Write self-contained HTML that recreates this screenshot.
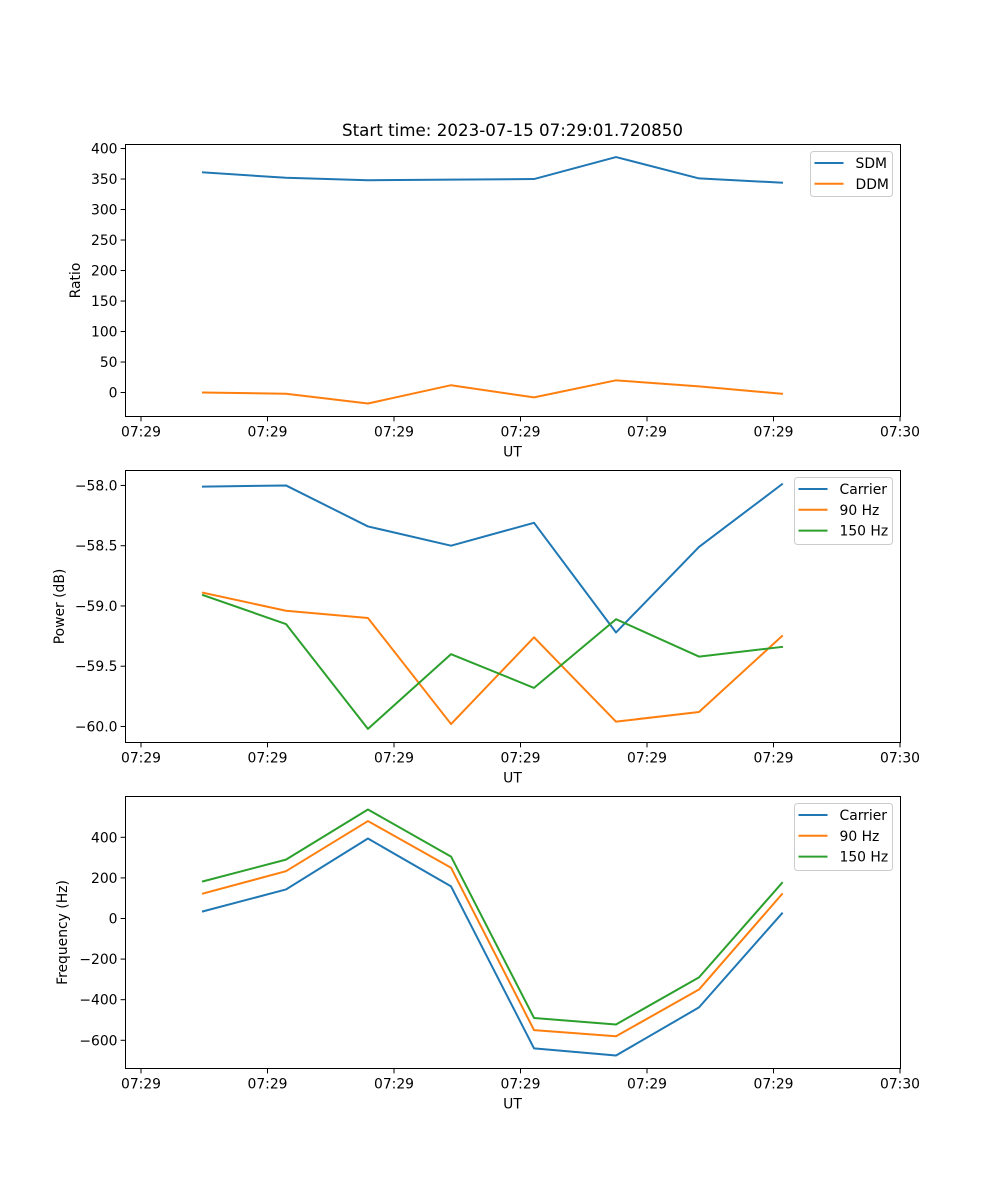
<!DOCTYPE html>
<html><head><meta charset="utf-8">
<style>
html,body{margin:0;padding:0;background:#fff;}
svg{display:block;font-family:"DejaVu Sans","Liberation Sans",sans-serif;}
</style></head>
<body>
<svg id="fig" width="1000" height="1200" viewBox="0 0 1000 1200" xmlns="http://www.w3.org/2000/svg">
<rect width="1000" height="1200" fill="#fff"/>
<text x="512.5" y="136" font-size="16.7" text-anchor="middle">Start time: 2023-07-15 07:29:01.720850</text>
</svg>
<script>
// shared x data: seconds after 07:29:00
const times = [4.9, 11.46, 17.94, 24.51, 31.07, 37.55, 44.11, 50.67];
const xTicks = [0, 10, 20, 30, 40, 50, 60];
const xTickLabels = ["07:29","07:29","07:29","07:29","07:29","07:29","07:30"];

// panel 1
const sdm = [361, 352, 348, 349, 350, 386, 351, 344];
const ddm = [0, -2, -18, 12, -8, 20, 10, -2];
const ratioTicks = [0, 50, 100, 150, 200, 250, 300, 350, 400];
// panel 2
const pCarrier = [-58.01, -58.0, -58.34, -58.50, -58.31, -59.22, -58.51, -57.99];
const p90 = [-58.89, -59.04, -59.10, -59.98, -59.26, -59.96, -59.88, -59.25];
const p150 = [-58.91, -59.15, -60.02, -59.40, -59.68, -59.11, -59.42, -59.34];
const powerTicks = [-60.0, -59.5, -59.0, -58.5, -58.0];
// panel 3
const fCarrier = [35, 143, 394, 158, -640, -675, -438, 25];
const f90 = [123, 233, 480, 250, -550, -580, -350, 120];
const f150 = [183, 290, 537, 305, -490, -522, -290, 175];
const freqTicks = [-600, -400, -200, 0, 200, 400];

const NS = "http://www.w3.org/2000/svg";
const fig = document.getElementById('fig');
function mk(tag, attrs, parent){const e=document.createElementNS(NS,tag);for(const k in attrs)e.setAttribute(k,attrs[k]);(parent||fig).appendChild(e);return e;}
const X0=125.5, X1=900.5;
const xScale = t => 141 + t*12.65;
const fmtMinus = s => String(s).replace('-', '\u2212');

function panel(cfg){
  const g = mk('g',{});
  
  
  const yS = v => cfg.top + (cfg.ymax - v)/(cfg.ymax - cfg.ymin)*(cfg.bot - cfg.top);
  cfg.series.forEach(s=>{
    const p = mk('polyline',{points: times.map((t,i)=>xScale(t).toFixed(2)+','+yS(s.data[i]).toFixed(2)).join(' '), fill:'none', stroke:s.color, 'stroke-width':2, 'stroke-linejoin':'round','stroke-linecap':'square'}, g);
    
    
  });
  const fr = mk('rect',{x:X0,y:cfg.top,width:X1-X0,height:cfg.bot-cfg.top,fill:'none',stroke:'#000','stroke-width':1},g);
  
  
  xTicks.forEach((t,i)=>{
    const x = xScale(t);
    mk('line',{x1:x,x2:x,y1:cfg.bot,y2:cfg.bot+4.9,stroke:'#000','stroke-width':1},g);
    const tx = mk('text',{x:x,y:cfg.bot+20,'font-size':13.9,'text-anchor':'middle'},g);
    tx.textContent = xTickLabels[i];
    
    
  });
  const xl = mk('text',{x:512.5,y:cfg.bot+40,'font-size':13.9,'text-anchor':'middle'},g);
  xl.textContent='UT';
  
  
  cfg.ticks.forEach(v=>{
    const y = yS(v);
    mk('line',{x1:X0,x2:X0-4.9,y1:y,y2:y,stroke:'#000','stroke-width':1},g);
    const tx = mk('text',{x:X0-8,y:y+5,'font-size':13.9,'text-anchor':'end'},g);
    tx.textContent = fmtMinus(cfg.fmt(v));
    
    
  });
  const yl = mk('text',{x:0,y:0,'font-size':13.9,'text-anchor':'middle',transform:`translate(${cfg.ylx},${(cfg.top+cfg.bot)/2}) rotate(-90)`},g);
  yl.textContent = cfg.ylabel;
  
  
  const L = cfg.legend;
  const lg = mk('g',{},g);
  
  
  mk('rect',{x:L.x,y:L.y,width:L.w,height:L.h,rx:3,fill:'#fff','fill-opacity':0.8,stroke:'#ccc','stroke-width':1},lg);
  cfg.series.forEach((s,i)=>{
    const y = L.y + 11.5 + i*20.8;
    mk('line',{x1:L.x+4,x2:L.x+33,y1:y,y2:y,stroke:s.color,'stroke-width':2},lg);
    const tx = mk('text',{x:L.x+45,y:y+5,'font-size':13.9},lg);
    tx.textContent = s.label;
    
    
  });
}

panel({name:'ratio-panel', top:144.5, bot:416.5, ymin:-39.3, ymax:406.6, ticks:ratioTicks, fmt:v=>String(v), ylabel:'Ratio', ylx:80,
  series:[{key:'sdm',label:'SDM',color:'#1f77b4',data:sdm},{key:'ddm',label:'DDM',color:'#ff7f0e',data:ddm}],
  legend:{x:810.5,y:151.5,w:82,h:45}});
panel({name:'power-panel', top:470.5, bot:742.5, ymin:-60.133, ymax:-57.876, ticks:powerTicks, fmt:v=>v.toFixed(1), ylabel:'Power (dB)', ylx:64,
  series:[{key:'power-carrier',label:'Carrier',color:'#1f77b4',data:pCarrier},{key:'power-90hz',label:'90 Hz',color:'#ff7f0e',data:p90},{key:'power-150hz',label:'150 Hz',color:'#2ca02c',data:p150}],
  legend:{x:794.5,y:477.5,w:98,h:67}});
panel({name:'frequency-panel', top:796.5, bot:1068.5, ymin:-739, ymax:601, ticks:freqTicks, fmt:v=>String(v), ylabel:'Frequency (Hz)', ylx:67,
  series:[{key:'freq-carrier',label:'Carrier',color:'#1f77b4',data:fCarrier},{key:'freq-90hz',label:'90 Hz',color:'#ff7f0e',data:f90},{key:'freq-150hz',label:'150 Hz',color:'#2ca02c',data:f150}],
  legend:{x:794.5,y:803.5,w:98,h:67}});
</script>
</body></html>
